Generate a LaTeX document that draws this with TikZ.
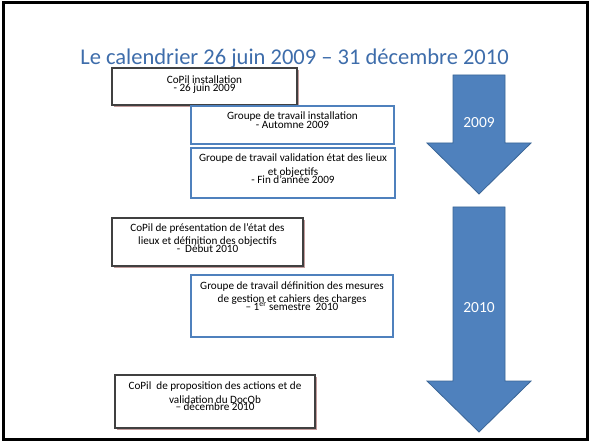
\documentclass[tikz,border=0pt]{standalone}
\usepackage{fontspec}
\setmainfont{Carlito}
\usetikzlibrary{shadows}
\definecolor{titleblue}{HTML}{3E6DAB}
\definecolor{arrowfill}{HTML}{4F81BD}
\definecolor{arrowline}{HTML}{3A6596}
\definecolor{boxblue}{HTML}{4F81BD}
\definecolor{copilgray}{HTML}{404040}
\definecolor{shadowc}{HTML}{C29C9C}
\tikzset{
  boxbase/.style={inner sep=0pt, outer sep=0pt, anchor=north west, fill=white},
  copilbox/.style={boxbase, draw=copilgray, line width=2.5bp,
     general shadow={fill=shadowc, shadow xshift=2bp, shadow yshift=-2bp}},
  bluebox/.style={boxbase, draw=boxblue, line width=1.8bp},
  boxtext/.style={inner sep=0pt, anchor=base, align=center,
     font={\fontsize{11.2}{8.5}\selectfont\lineskiplimit=-100pt\lineskip=0pt}, text=black},
  yeararrow/.style={fill=arrowfill, draw=arrowline, line width=0.8bp},
  yeartext/.style={text=white, font=\fontsize{15.5}{18}\selectfont}
}
\begin{document}
\lineskiplimit=-100pt
\lineskip=0pt
\begin{tikzpicture}[x=1bp,y=-1bp]
\useasboundingbox (0,0) rectangle (589,441);
\fill[white] (0,0) rectangle (589,441);
\draw[black, line width=3bp] (3.5,2.5) rectangle (587.5,439);

\node[anchor=base, text=titleblue, inner sep=0pt, font=\fontsize{22.6}{26}\selectfont]
  (title) at (294.5,65) {Le calendrier 26 juin 2009 – 31 décembre 2010};

% arrows
\draw[yeararrow] (453,75) -- (505,75) -- (505,143) -- (531,143) -- (479,194)
  -- (427,143) -- (453,143) -- cycle;
\draw[yeararrow] (453,207) -- (505,207) -- (505,381) -- (531,381) -- (479,432)
  -- (427,381) -- (453,381) -- cycle;
\node[yeartext] (y2009) at (479,123) {2009};
\node[yeartext] (y2010) at (479,308) {2010};

% boxes
\node[copilbox, minimum width=185bp, minimum height=37bp] (b1) at (112,68) {};
\node[bluebox, minimum width=203bp, minimum height=38bp] (b2) at (191,106) {};
\node[bluebox, minimum width=204bp, minimum height=50bp] (b3) at (191,148) {};
\node[copilbox, minimum width=191bp, minimum height=48bp] (b4) at (112,218) {};
\node[bluebox, minimum width=202bp, minimum height=62bp] (b5) at (191,275) {};
\node[copilbox, minimum width=200bp, minimum height=53bp] (b6) at (115,375) {};

% texts (anchor = baseline of the last line)
\node[boxtext] (t1) at (204.5,91.5) {CoPil installation\\- 26 juin 2009};
\node[boxtext] (t2) at (292.5,128.3) {Groupe de travail installation\\[0.5bp]- Automne 2009};
\node[boxtext] (t3) at (293,183.3) {Groupe de travail validation état des lieux\\[5.5bp] et objectifs\\[-0.2bp]- Fin d’année 2009};
\node[boxtext] (t4) at (207.5,252.3) {CoPil de présentation de l’état des\\[4.1bp]lieux et définition des objectifs\\[-0.5bp]-\ \ Début 2010};
\node[boxtext] (t5) at (292,310.7) {Groupe de travail définition des mesures\\[4.9bp]de gestion et cahiers des charges\\[-0.5bp]– 1\textsuperscript{er} semestre\ \ 2010};
\node[boxtext] (t6) at (215,410.7) {CoPil\ \ de proposition des actions et de\\[5.5bp]validation du DocOb\\[-1.1bp]– décembre 2010};
\end{tikzpicture}
\end{document}
